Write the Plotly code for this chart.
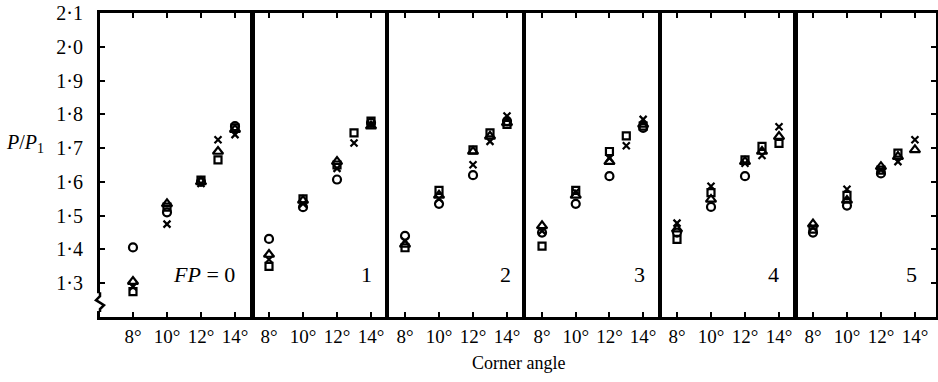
import plotly.graph_objects as go
from plotly.subplots import make_subplots

# Corner angles at which pressures were measured (degrees)
angles = [8, 10, 12, 13, 14]

# P/P1 for each FP panel (0..5); one row per panel, one value per angle
circle_vals = [
    [1.406, 1.51, 1.60, None, 1.765],
    [1.431, 1.525, 1.607, None, 1.775],
    [1.44, 1.535, 1.62, None, 1.78],
    [1.45, 1.535, 1.617, None, 1.76],
    [1.45, 1.526, 1.617, None, None],
    [1.45, 1.53, 1.625, None, None],
]
square_vals = [
    [1.275, 1.525, 1.605, 1.665, 1.76],
    [1.35, 1.55, 1.65, 1.745, 1.78],
    [1.405, 1.575, 1.695, 1.745, 1.77],
    [1.41, 1.575, 1.69, 1.736, 1.765],
    [1.43, 1.568, 1.665, 1.705, 1.714],
    [1.46, 1.56, 1.635, 1.685, None],
]
triangle_vals = [
    [1.305, 1.535, 1.60, 1.69, 1.755],
    [1.385, 1.545, 1.66, None, 1.765],
    [1.415, 1.56, 1.69, 1.735, 1.775],
    [1.47, 1.56, 1.66, None, 1.77],
    [1.46, 1.548, 1.66, 1.69, 1.734],
    [1.475, 1.545, 1.645, 1.675, 1.695],
]
cross_vals = [
    [1.29, 1.475, 1.595, 1.725, 1.74],
    [1.37, 1.535, 1.64, 1.715, 1.77],
    [1.425, 1.55, 1.651, 1.72, 1.795],
    [1.455, 1.57, 1.67, 1.707, 1.785],
    [1.478, 1.587, 1.655, 1.678, 1.763],
    [1.465, 1.578, 1.635, 1.66, 1.725],
]

panel_labels = ["<i>FP</i> = 0", "1", "2", "3", "4", "5"]
x_tickvals = [8, 10, 12, 14]
x_ticktext = ["8°", "10°", "12°", "14°"]
y_tickvals = [1.3, 1.4, 1.5, 1.6, 1.7, 1.8, 1.9, 2.0, 2.1]
y_ticktext = ["1·3", "1·4", "1·5", "1·6", "1·7", "1·8", "1·9", "2·0", "2·1"]

# panel geometry: x ranges and relative widths
x_ranges = [[6.06, 15.0], [7.0, 14.94], [6.94, 15.0], [6.93, 15.0], [7.0, 15.0], [7.0, 15.24]]
col_widths = [152, 135, 137, 136, 136, 140]
label_x = [12.2, 13.76, 13.9, 13.8, 13.7, 13.8]

FONT = "Liberation Serif"
INK = "black"

fig = make_subplots(rows=1, cols=6, shared_yaxes=True, horizontal_spacing=0,
                    column_widths=col_widths)

series = [
    (circle_vals, "circle-open", 8),
    (square_vals, "square-open", 7),
    (triangle_vals, "triangle-up-open", 9),
    (cross_vals, "x-thin-open", 7),
]

for p in range(6):
    for vals, sym, size in series:
        xs = [a for a, v in zip(angles, vals[p]) if v is not None]
        ys = [v for v in vals[p] if v is not None]
        fig.add_trace(go.Scatter(
            x=xs, y=ys, mode="markers", showlegend=False,
            marker=dict(symbol=sym, size=size, color=INK,
                        line=dict(color=INK, width=2.2)),
        ), row=1, col=p + 1)

    fig.update_xaxes(range=x_ranges[p], tickvals=x_tickvals, ticktext=x_ticktext,
                     ticks="inside", ticklen=5, tickwidth=1.5, tickcolor=INK,
                     showline=True, linewidth=3, linecolor=INK, mirror="ticks",
                     showgrid=False, zeroline=False,
                     tickfont=dict(family=FONT, size=19, color=INK),
                     row=1, col=p + 1)

    yargs = dict(range=[1.2, 2.1], showline=True, linewidth=2, linecolor=INK,
                 mirror=True, showgrid=False, zeroline=False)
    if p == 0:
        yargs.update(tickvals=y_tickvals, ticktext=y_ticktext, ticks="inside",
                     ticklen=5, tickwidth=1.5, tickcolor=INK, ticklabelstandoff=10,
                     linewidth=3, ticklabeloverflow="allow",
                     tickfont=dict(family=FONT, size=20, color=INK))
    elif p == 5:
        yargs.update(side="right", tickvals=y_tickvals, ticks="inside", ticklen=5,
                     tickwidth=1.5, tickcolor=INK, showticklabels=False, linewidth=3)
    else:
        yargs.update(ticks="", showticklabels=False)
    fig.update_yaxes(**yargs, row=1, col=p + 1)

    xref = "x" if p == 0 else f"x{p + 1}"
    fig.add_annotation(x=label_x[p], y=1.325, xref=xref, yref="y",
                       text=panel_labels[p], showarrow=False,
                       font=dict(family=FONT, size=22, color=INK))

# plot area in pixels, used for the axis-break mark
L, R, T, B = 100, 936, 10, 317


def px(x, y):
    return (x - L) / (R - L), (B - y) / (B - T)


x0, y0 = px(94, 293)
x1, y1 = px(106, 311)
fig.add_shape(type="rect", xref="paper", yref="paper", x0=x0, y0=y0, x1=x1, y1=y1,
              fillcolor="white", line=dict(width=0), layer="above")
pts = [(100, 292), (100, 296), (96, 300), (104, 305), (100, 309), (100, 312)]
path = "M " + " L ".join(f"{px(a, b)[0]},{px(a, b)[1]}" for a, b in pts)
fig.add_shape(type="path", xref="paper", yref="paper", path=path,
              line=dict(color=INK, width=2.5), layer="above")

fig.add_annotation(x=px(4, 0)[0], y=px(0, 142)[1], xref="paper", yref="paper",
                   xanchor="left", yanchor="middle",
                   text="<i>P</i>/<i>P</i><sub>1</sub>", showarrow=False,
                   font=dict(family=FONT, size=20, color=INK))
fig.add_annotation(x=px(518, 0)[0], y=px(0, 363)[1], xref="paper", yref="paper",
                   xanchor="center", yanchor="middle",
                   text="Corner angle", showarrow=False,
                   font=dict(family=FONT, size=18, color=INK))

fig.update_layout(
    width=938, height=382,
    margin=dict(l=L, r=938 - R, t=T, b=382 - B),
    paper_bgcolor="white", plot_bgcolor="white",
    font=dict(family=FONT, color=INK),
)

fig.write_html("out.html")
